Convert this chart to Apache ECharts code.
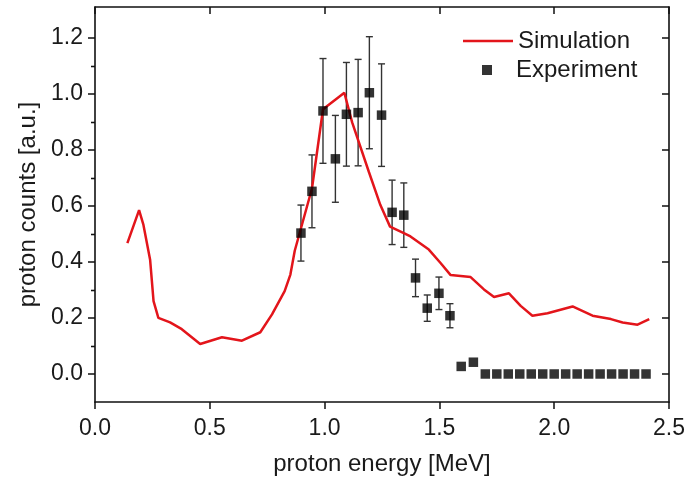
<!DOCTYPE html>
<html>
<head>
<meta charset="utf-8">
<script src="https://cdn.jsdelivr.net/npm/echarts@6/dist/echarts.min.js"></script>
<style>
html,body{margin:0;padding:0;background:#fff;}
#chart{width:694px;height:481px;}
</style>
</head>
<body>
<div id="chart"></div>
<script>
// Simulation curve (proton energy [MeV], counts [a.u.])
const simX = [0.141,0.192,0.211,0.240,0.255,0.276,0.327,0.378,0.458,0.553,0.640,0.720,0.771,0.826,0.851,0.870,0.945,0.993,1.086,1.120,1.193,1.243,1.285,1.345,1.374,1.454,1.505,1.549,1.636,1.694,1.738,1.803,1.854,1.905,1.971,2.080,2.167,2.247,2.298,2.363,2.414];
const simY = [0.467,0.585,0.532,0.408,0.260,0.200,0.184,0.160,0.107,0.131,0.119,0.149,0.213,0.296,0.355,0.440,0.662,0.945,1.004,0.898,0.721,0.603,0.526,0.503,0.491,0.444,0.396,0.353,0.346,0.302,0.275,0.288,0.243,0.208,0.217,0.241,0.208,0.196,0.184,0.176,0.196];

// Experiment points with error bars
const expX   = [0.897,0.945,0.993,1.047,1.095,1.146,1.195,1.248,1.294,1.345,1.396,1.447,1.498,1.546,1.595,1.648,1.70,1.75,1.80,1.85,1.90,1.95,2.00,2.05,2.10,2.15,2.20,2.25,2.30,2.35,2.40];
const expY   = [0.503,0.652,0.939,0.768,0.927,0.933,1.004,0.924,0.577,0.567,0.343,0.235,0.288,0.208,0.027,0.042,0,0,0,0,0,0,0,0,0,0,0,0,0,0,0];
const expErr = [0.100,0.130,0.187,0.155,0.185,0.190,0.200,0.183,0.115,0.115,0.067,0.047,0.058,0.043,0,0,0,0,0,0,0,0,0,0,0,0,0,0,0,0,0];

// Tick labels
const xTicks = [0.0,0.5,1.0,1.5,2.0,2.5];
const yTicks = [0.0,0.2,0.4,0.6,0.8,1.0,1.2];
const yMinorTicks = [0.1,0.3,0.5,0.7,0.9,1.1];

const FONT = 'Liberation Sans, Arial, sans-serif';
const INK = '#1a1a1a';
const axisLine = {show:true, onZero:false, lineStyle:{color:'#111', width:1.6}};

const chart = echarts.init(document.getElementById('chart'), null, {renderer:'canvas'});

const errData = expX.map((x,i)=>[x, expY[i], expErr[i]]).filter(d=>d[2]>0);

chart.setOption({
  animation:false,
  backgroundColor:'#fff',
  textStyle:{fontFamily:FONT},
  grid:{left:95, right:25, top:7, bottom:77, containLabel:false},
  legend:[
    {data:[{name:'Simulation', icon:'rect'}], left:458, top:24, itemWidth:50, itemHeight:2.5, itemGap:0,
     textStyle:{fontSize:24, color:INK, fontFamily:FONT}},
    {data:[{name:'Experiment', icon:'rect'}], left:477, top:53, itemWidth:10, itemHeight:10, itemGap:0,
     textStyle:{fontSize:24, color:INK, fontFamily:FONT, padding:[0,0,0,19]}}
  ],
  xAxis:[
    {type:'value', position:'bottom', min:0, max:2.5, interval:0.5,
     axisLine:axisLine, splitLine:{show:false},
     axisTick:{show:true, inside:false, length:7, lineStyle:{color:'#111', width:1.5}},
     axisLabel:{fontSize:23, color:INK, margin:15, fontFamily:FONT,
       customValues:xTicks, formatter:v=>v.toFixed(1)},
     name:'proton energy [MeV]', nameLocation:'middle', nameGap:50,
     nameTextStyle:{fontSize:24, color:INK, fontFamily:FONT}},
    {type:'value', position:'top', min:0, max:2.5, interval:0.5,
     axisLine:axisLine, splitLine:{show:false},
     axisTick:{show:true, inside:true, length:7, lineStyle:{color:'#111', width:1.5}},
     axisLabel:{show:false}}
  ],
  yAxis:[
    {type:'value', position:'left', min:-0.1, max:1.31,
     axisLine:axisLine, splitLine:{show:false},
     axisTick:{show:true, inside:false, length:7, customValues:yTicks, lineStyle:{color:'#111', width:1.5}},
     axisLabel:{fontSize:23, color:INK, margin:12, fontFamily:FONT,
       customValues:yTicks, formatter:v=>v.toFixed(1)},
     name:'proton counts [a.u.]', nameLocation:'middle', nameGap:53,
     nameTextStyle:{fontSize:24, color:INK, fontFamily:FONT}},
    {type:'value', position:'left', min:-0.1, max:1.31,
     axisLine:{show:false}, splitLine:{show:false},
     axisTick:{show:true, inside:false, length:4, customValues:yMinorTicks, lineStyle:{color:'#111', width:1.3}},
     axisLabel:{show:false}},
    {type:'value', position:'right', min:-0.1, max:1.31,
     axisLine:axisLine, splitLine:{show:false},
     axisTick:{show:true, inside:true, length:7, customValues:yTicks, lineStyle:{color:'#111', width:1.5}},
     axisLabel:{show:false}},
    {type:'value', position:'right', min:-0.1, max:1.31,
     axisLine:{show:false}, splitLine:{show:false},
     axisTick:{show:true, inside:true, length:4, customValues:yMinorTicks, lineStyle:{color:'#111', width:1.3}},
     axisLabel:{show:false}}
  ],
  series:[
    {type:'custom', name:'errorbars', xAxisIndex:0, yAxisIndex:0, z:2,
     data:errData, encode:{x:0, y:1},
     renderItem:function(params, api){
       const x = api.value(0), y = api.value(1), e = api.value(2);
       const t = api.coord([x, y+e]), b = api.coord([x, y-e]);
       const c = 3.5;
       const st = {stroke:'#333', lineWidth:1.4};
       return {type:'group', children:[
         {type:'line', shape:{x1:t[0], y1:t[1], x2:b[0], y2:b[1]}, style:st},
         {type:'line', shape:{x1:t[0]-c, y1:t[1], x2:t[0]+c, y2:t[1]}, style:st},
         {type:'line', shape:{x1:b[0]-c, y1:b[1], x2:b[0]+c, y2:b[1]}, style:st}
       ]};
     }},
    {type:'line', name:'Simulation', xAxisIndex:0, yAxisIndex:0, z:3,
     data:simX.map((x,i)=>[x, simY[i]]),
     showSymbol:false, symbol:'none', color:'#e3151b',
     lineStyle:{color:'#e3151b', width:2.5}},
    {type:'scatter', name:'Experiment', xAxisIndex:0, yAxisIndex:0, z:4,
     data:expX.map((x,i)=>[x, expY[i]]),
     symbol:'rect', symbolSize:9.5, color:'#000', itemStyle:{color:'#000'}}
  ]
});
</script>
</body>
</html>
